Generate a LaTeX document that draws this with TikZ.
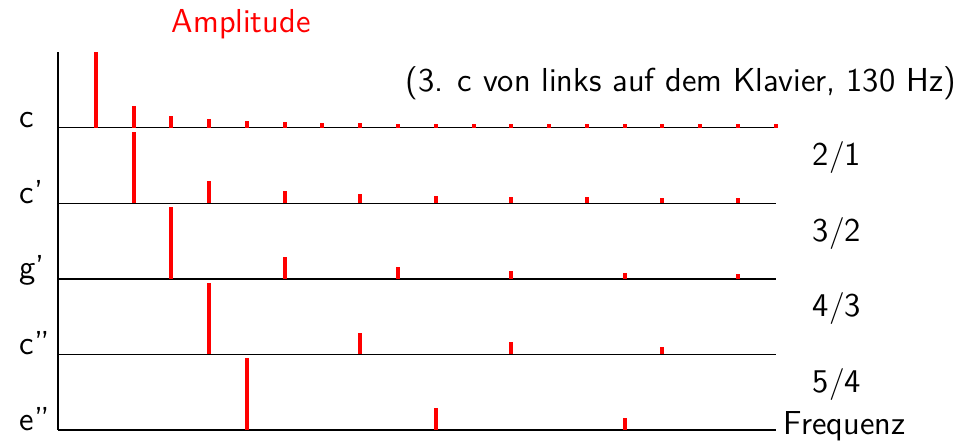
\documentclass[tikz,border=0pt]{standalone}
\usepackage{tikz}
\usetikzlibrary{positioning}
\tikzset{
	partial/.style={line width=1.5pt, color=red},
	axisline/.style={line width=0.5pt, color=black},
	notename/.style={anchor=base west, inner sep=0pt},
	ratiolabel/.style={anchor=base, inner sep=0pt}
}

\begin{document}
\begin{tikzpicture}[x=0.5cm, y=0.5cm, font=\sffamily\fontsize{12.5}{15}\selectfont]
	%%%%% START %%%%%
	\useasboundingbox (-1.535, -0.318) rectangle (24.378, 11.382);

	\draw[axisline] (0, 10) -- (0, 0);
	\foreach \row in {0, 2, 4, 6, 8}
		\draw[axisline] (0, \row) -- (19, \row);

	% c
	\foreach \n/\h in {1/2.0, 2/0.58, 3/0.32, 4/0.22, 5/0.19, 6/0.16, 7/0.13, 8/0.13, 9/0.11,
		10/0.11, 11/0.11, 12/0.11, 13/0.11, 14/0.11, 15/0.11, 16/0.11, 17/0.11, 18/0.11, 19/0.11}
		\draw[partial] (\n, 8) -- ++(0, \h);

	% c'
	\foreach \n/\h in {2/1.9, 4/0.6, 6/0.32, 8/0.24, 10/0.19, 12/0.16, 14/0.16, 16/0.13, 18/0.13}
		\draw[partial] (\n, 6) -- ++(0, \h);

	% g'
	\foreach \n/\h in {3/1.9, 6/0.58, 9/0.32, 12/0.21, 15/0.16, 18/0.13}
		\draw[partial] (\n, 4) -- ++(0, \h);

	% c''
	\foreach \n/\h in {4/1.9, 8/0.58, 12/0.32, 16/0.21}
		\draw[partial] (\n, 2) -- ++(0, \h);

	% e''
	\foreach \n/\h in {5/1.9, 10/0.58, 15/0.32}
		\draw[partial] (\n, 0) -- ++(0, \h);

	\node[notename] (nc) at (-1.03, 8) {c};
	\node[notename] (ncp) at (-1.03, 6) {c'};
	\node[notename] (ngp) at (-1.03, 4) {g'};
	\node[notename] (ncpp) at (-1.03, 2) {c''};
	\node[notename] (nepp) at (-1.03, 0) {e''};

	\node[ratiolabel] (r21) at (20.62, 7) {2$/$1};
	\node[ratiolabel] (r32) at (20.62, 5) {3$/$2};
	\node[ratiolabel] (r43) at (20.62, 3) {4$/$3};
	\node[ratiolabel] (r54) at (20.62, 1) {5$/$4};

	\node[anchor=base west, inner sep=0pt, text=red] (amp) at (3.0, 10.52) {Amplitude};
	\node[anchor=base east, inner sep=0pt] (info) at (23.78, 8.95) {(3. c von links auf dem Klavier, 130 Hz)};
	\node[anchor=base west, inner sep=0pt] (freq) at (19.2, -0.13) {Frequenz};

	%%%%% END %%%%%
\end{tikzpicture}
\end{document}
